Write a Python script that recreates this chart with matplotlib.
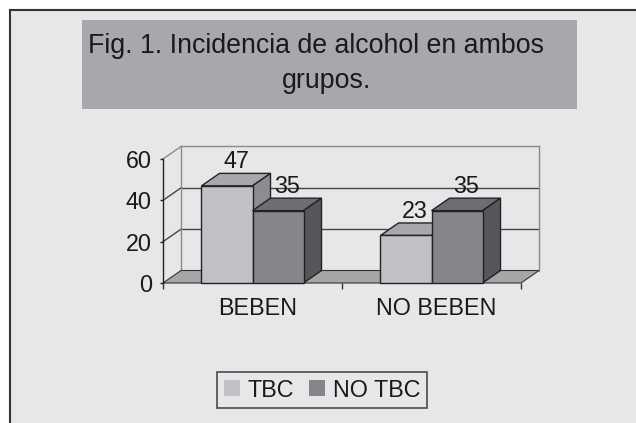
import matplotlib
matplotlib.use("Agg")
import matplotlib.pyplot as plt
import matplotlib.transforms as mtransforms
from matplotlib.patches import Rectangle, Polygon, Patch
from matplotlib.lines import Line2D

# data
categories = ["BEBEN", "NO BEBEN"]
series_names = ["TBC", "NO TBC"]
tbc = [47, 23]
no_tbc = [35, 35]
yticks = [0, 20, 40, 60]

W, H = 636, 423
bg = "#e6e7e9"
front_cols = ["#c0c1c4", "#858689"]
top_cols = ["#a7a8ab", "#6d6e71"]
side_cols = ["#8c8d90", "#56575a"]
fs = 16.8

plt.rcParams["font.family"] = ["Liberation Sans", "DejaVu Sans"]

fig = plt.figure(figsize=(W / 100, H / 100), dpi=100)
fig.patch.set_facecolor("white")


def fx(px):
    return px / W


def fy(py):
    return 1 - py / H


# outer panel and frame
fig.patches.append(Rectangle((fx(10), 0), 1, fy(10), transform=fig.transFigure,
                             facecolor=bg, edgecolor="none", zorder=-2))
fig.lines.append(Line2D([fx(10), fx(10)], [0, fy(10)], transform=fig.transFigure,
                        color="#333333", lw=1.5))
fig.lines.append(Line2D([fx(10), 1], [fy(10), fy(10)], transform=fig.transFigure,
                        color="#333333", lw=1.5))

# title box
fig.patches.append(Rectangle((fx(82), fy(109)), fx(577) - fx(82), fy(20) - fy(109),
                             transform=fig.transFigure, facecolor="#a7a8ab",
                             edgecolor="none", zorder=-1))
fig.text(fx(316.5), fy(52.7), "Fig. 1. Incidencia de alcohol en ambos", fontsize=19.3,
         ha="center", va="baseline", color="#1a1a1a")
fig.text(fx(326.7), fy(87.7), "grupos.", fontsize=19.3, ha="center", va="baseline",
         color="#1a1a1a")

# axes = front plane of the 3d box
ax = fig.add_axes([fx(163), fy(283), fx(521) - fx(163), fy(159) - fy(283)])
ax.set_zorder(1)
ax.set_facecolor("none")
ax.set_xlim(-0.5, len(categories) - 0.5)
ax.set_ylim(0, 60)
for s in ["top", "right", "bottom"]:
    ax.spines[s].set_visible(False)
ax.spines["left"].set_color("#222222")
ax.spines["left"].set_linewidth(1)

# depth of the box in data units (18 px right, 12.5 px up)
ppx = (fx(521) - fx(163)) * W / (ax.get_xlim()[1] - ax.get_xlim()[0])
ppy = (fy(159) - fy(283)) * H / 60
dx = 18 / ppx
dy = 12.5 / ppy
x0, x1 = ax.get_xlim()

# back wall
for t in yticks[1:]:
    c = "#8a8a8c" if t == yticks[-1] else "#454547"
    ax.plot([x0 + dx, x1 + dx], [t + dy, t + dy], color=c, lw=1, clip_on=False, zorder=1)
    ax.plot([x0, x0 + dx], [t, t + dy], color=c, lw=1, clip_on=False, zorder=1)
ax.plot([x0 + dx, x0 + dx], [dy, 60 + dy], color="#8a8a8c", lw=1, clip_on=False, zorder=1)
ax.plot([x1 + dx, x1 + dx], [dy, 60 + dy], color="#8a8a8c", lw=1, clip_on=False, zorder=1)

# floor
ax.add_patch(Polygon([(x0, 0), (x1, 0), (x1 + dx, dy), (x0 + dx, dy)], closed=True,
                     facecolor="#a5a6a8", edgecolor="#333333", lw=0.8,
                     clip_on=False, zorder=2))

# bars
bw = 0.285
offsets = [-bw / 2, bw / 2]
z = 3
for gi in range(len(categories)):
    for si, vals in enumerate([tbc, no_tbc]):
        v = vals[gi]
        xc = gi + offsets[si]
        l, r = xc - bw / 2, xc + bw / 2
        ax.add_patch(Polygon([(l, v), (r, v), (r + dx, v + dy), (l + dx, v + dy)],
                             closed=True, facecolor=top_cols[si], edgecolor="#222222",
                             lw=1, clip_on=False, zorder=z))
        ax.add_patch(Polygon([(r, 0), (r, v), (r + dx, v + dy), (r + dx, dy)],
                             closed=True, facecolor=side_cols[si], edgecolor="#222222",
                             lw=1, clip_on=False, zorder=z))
        ax.bar(xc, v, bw, color=front_cols[si], edgecolor="#222222", lw=1,
               clip_on=False, zorder=z + 0.5)
        ax.annotate(str(v), (xc, v), xytext=(9, 12.5 + 5), textcoords="offset pixels",
                    ha="center", va="baseline", fontsize=fs, color="#1a1a1a",
                    annotation_clip=False, zorder=10)
        z += 1

# ticks
ax.set_yticks(yticks)
ax.tick_params(axis="y", length=2.5, width=1, color="#222222", pad=5.5,
               labelsize=fs, labelcolor="#1a1a1a")
ax.set_xticks(range(len(categories)))
ax.set_xticklabels(categories)
ax.set_xticks([x0, 0.5, x1], minor=True)
ax.tick_params(axis="x", which="major", length=0, pad=10, labelsize=fs,
               labelcolor="#1a1a1a")
ax.tick_params(axis="x", which="minor", length=4.5, width=1, color="#333333")
shift = mtransforms.ScaledTranslation(5 / 100, 0, fig.dpi_scale_trans)
for lbl in ax.get_xticklabels():
    lbl.set_transform(lbl.get_transform() + shift)

# legend
handles = [Patch(facecolor=front_cols[i], edgecolor="none", label=series_names[i])
           for i in range(len(series_names))]
leg = fig.legend(handles=handles, loc="center", bbox_to_anchor=(fx(322), fy(390)),
                 ncol=2, fontsize=fs, frameon=True, fancybox=False,
                 edgecolor="#222222", facecolor=bg, handlelength=0.69,
                 handleheight=0.69, handletextpad=0.35, columnspacing=0.6,
                 borderpad=0.28, borderaxespad=0)
leg.get_frame().set_linewidth(1.2)
for t in leg.get_texts():
    t.set_color("#1a1a1a")

fig.savefig("out.png", dpi=100, facecolor=fig.get_facecolor())
